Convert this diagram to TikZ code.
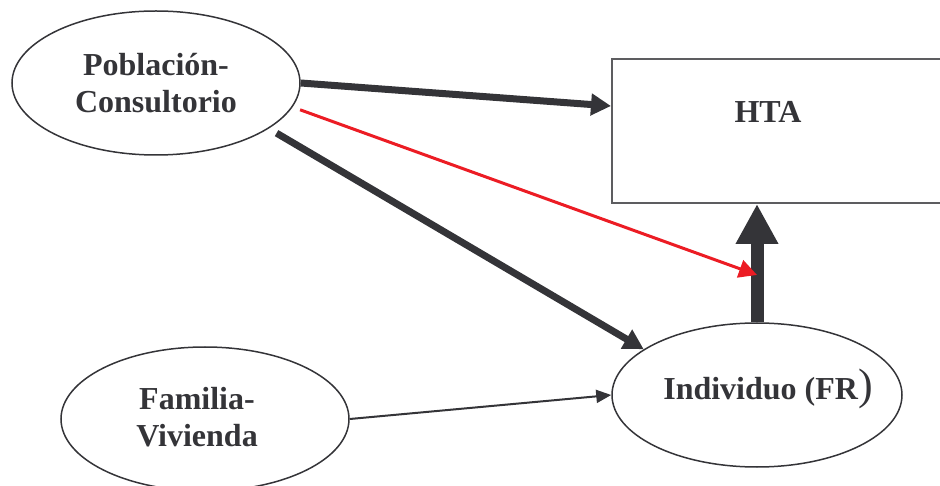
\documentclass[tikz,border=0pt]{standalone}
\usepackage{fontspec}
\setmainfont{Liberation Serif}
\usepackage{tikz}
\usetikzlibrary{shapes.geometric,calc,arrows.meta}
\definecolor{dgray}{RGB}{52,52,56}
\definecolor{ared}{RGB}{236,28,36}
\newcommand{\diagfont}{\fontsize{32}{37}\selectfont\bfseries}

\begin{document}
\begin{tikzpicture}
	[   x=1pt,y=1pt,
		enode/.style={draw=dgray,line width=1.5pt,ellipse,minimum width=288pt,minimum height=144pt,inner sep=0pt,align=center,font=\diagfont,text=dgray},
		bnode/.style={draw=dgray!80,line width=2pt,rectangle,minimum width=350pt,minimum height=144pt},
	]
	\tikzset{heavy arrow/.style={draw=dgray,line width=7pt,-{Triangle[length=20pt,width=21pt]}}}
	\tikzset{huge arrow/.style={draw=dgray,line width=13pt,-{Triangle[length=40pt,width=40pt]}}}
	\tikzset{red arrow/.style={draw=ared,line width=3pt,-{Triangle[length=18pt,width=18pt]}}}
	\tikzset{thin arrow/.style={draw=dgray,line width=2pt,-{Triangle[length=15pt,width=13pt]}}}
	\useasboundingbox (0,0) rectangle (940,-486);
	\clip (0,0) rectangle (940,-486);
	
	\node[enode] (pob) at (156,-83) {Población-\\Consultorio};
	\node[enode,label={[font=\diagfont,text=dgray,xshift=-8pt,yshift=-2pt]center:{\begin{tabular}{@{}c@{}}Familia-\\Vivienda\end{tabular}}}] (fam) at (205,-419) {};
	\node[enode,minimum width=290pt,label={[font=\diagfont,text=dgray,xshift=11pt,yshift=6pt]center:{Individuo (FR{\mdseries\fontsize{44}{44}\selectfont)}}}] (ind) at (757,-395) {};
	\node[bnode,label={[font=\diagfont,text=dgray,xshift=-19pt,yshift=19pt]center:HTA}] (hta) at (787,-131) {};
	
	\coordinate (hit) at ($(ind.north)!0.4!(ind.north |- hta.south)$);
	
	\path[heavy arrow] (pob.east) -- ([yshift=-48pt]hta.north west);
	\path[heavy arrow,shorten <=9pt] (pob.-22) -- (ind.158);
	\path[thin arrow] (fam.east) -- (ind.west);
	\path[huge arrow] (ind.north) -- (ind.north |- hta.south);
	\path[red arrow,shorten <=8pt] (pob.-10) -- (hit);
\end{tikzpicture}
\end{document}
